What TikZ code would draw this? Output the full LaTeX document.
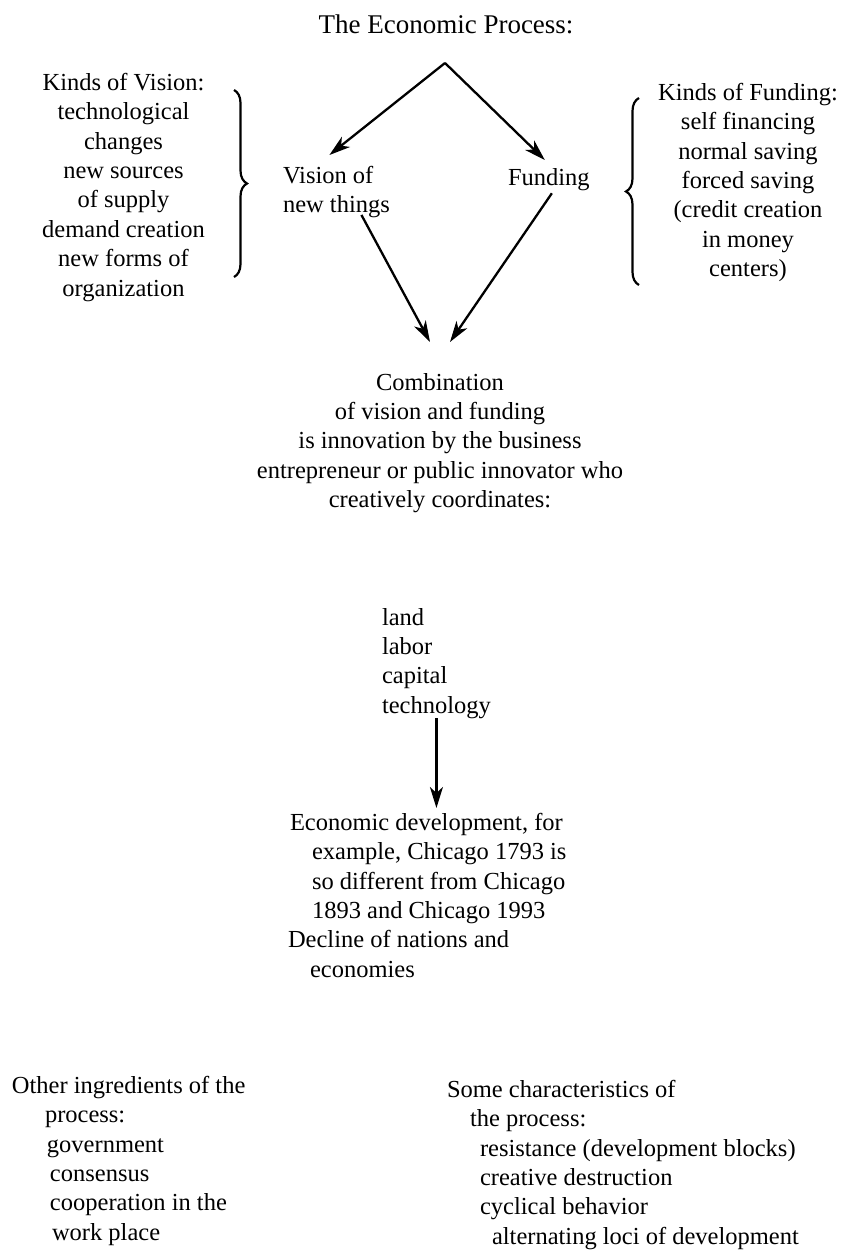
\documentclass[tikz,border=0pt]{standalone}
\usepackage{fontspec}
\setmainfont{Liberation Serif}
\usetikzlibrary{arrows.meta,decorations.pathreplacing,calc}
\newcommand{\fst}{\rule{0pt}{17pt}}
\begin{document}
\begin{tikzpicture}[x=1pt,y=1pt,
  body/.style={inner sep=0pt,outer sep=0pt,font=\fontsize{24.5}{29.4}\selectfont},
  arr/.style={line width=2.3pt,-{Stealth[length=21pt,width=13pt,inset=6pt]}},
  brc/.style={line width=2.2pt,decorate,decoration={brace,amplitude=13pt}}]
\useasboundingbox[fill=white] (0,0) rectangle (845,-1253);

\node[body,font=\fontsize{27}{30}\selectfont,anchor=base] (title) at (446,-33) {The Economic Process:};
\coordinate (apex) at (445,-63);

\node[body,align=center,anchor=north] (kv) at (123.5,-73) {\fst Kinds of Vision:\\technological\\changes\\new sources\\of supply\\demand creation\\new forms of\\organization};
\draw[brc] (234,-90) -- (234,-277);

\node[body,align=left,anchor=north west] (vis) at (283,-166) {\fst Vision of\\new things};
\node[body,anchor=base west] (fund) at (508,-185) {Funding};

\draw[brc] (639,-285) -- (639,-98);
\node[body,align=center,anchor=north] (kf) at (748,-83) {\fst Kinds of Funding:\\self financing\\normal saving\\forced saving\\(credit creation\\in money\\centers)};

\node[body,align=center,anchor=north] (comb) at (440,-373) {\fst Combination\\of vision and funding\\is innovation by the business\\entrepreneur or public innovator who\\creatively coordinates:};

\draw[arr] (apex) -- ($(vis.north)+(-7,11)$);
\draw[arr] (apex) -- ($(fund.north)+(-4,8)$);
\draw[arr] ($(vis.south)+(25,3)$) -- ($(comb.north)+(-10,31)$);
\draw[arr] ($(fund.south)+(3,-3)$) -- ($(comb.north)+(10,31)$);

\node[body,align=left,anchor=north west] (land) at (382,-608) {\fst land\\labor\\capital\\technology};

\node[body,align=left,anchor=north west] (econ) at (288,-813) {\fst\hspace*{2pt}Economic development, for\\\hspace*{24pt}example, Chicago 1793 is\\\hspace*{24pt}so different from Chicago\\\hspace*{24pt}1893 and Chicago 1993\\Decline of nations and\\\hspace*{22pt}economies};

\draw[arr] (land.south) -- ($(land.south |- econ.north)+(0,5)$);

\node[body,align=left,anchor=north west] (other) at (12,-1076) {\fst Other ingredients of the\\\hspace*{33pt}process:\\\hspace*{35pt}government\\\hspace*{38pt}consensus\\\hspace*{38pt}cooperation in the\\\hspace*{40pt}work place};

\node[body,align=left,anchor=north west] (chars) at (447,-1080) {\fst Some characteristics of\\\hspace*{23pt}the process:\\\hspace*{33pt}resistance (development blocks)\\\hspace*{33pt}creative destruction\\\hspace*{33pt}cyclical behavior\\\hspace*{45pt}alternating loci of development};
\end{tikzpicture}
\end{document}
